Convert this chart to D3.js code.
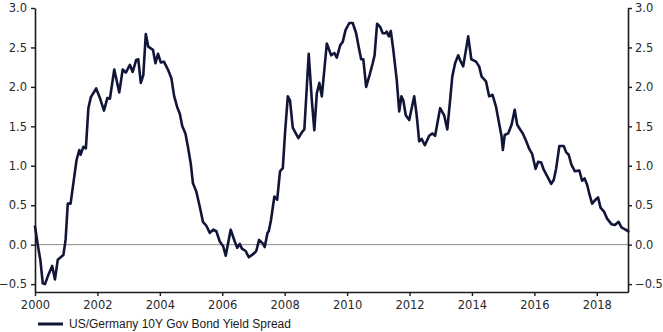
<!DOCTYPE html>
<html>
<head>
<meta charset="utf-8">
<script src="https://cdn.jsdelivr.net/npm/d3@7"></script>
<style>
  html, body { margin: 0; padding: 0; background: #fff; }
  svg { display: block; }
</style>
</head>
<body>
<svg id="chart" width="663" height="332"></svg>
<script>
// Observation times, in fractional years
const time = [
  2000.00, 2000.10, 2000.17, 2000.25, 2000.32, 2000.43, 2000.55, 2000.64, 2000.73, 2000.85,
  2000.91, 2000.98, 2001.05, 2001.14, 2001.23, 2001.33, 2001.42, 2001.46, 2001.55, 2001.63,
  2001.71, 2001.79, 2001.96, 2002.08, 2002.21, 2002.32, 2002.40, 2002.54, 2002.70, 2002.81,
  2002.91, 2003.04, 2003.13, 2003.24, 2003.31, 2003.39, 2003.47, 2003.55, 2003.63, 2003.78,
  2003.86, 2003.94, 2004.03, 2004.13, 2004.26, 2004.37, 2004.46, 2004.56, 2004.64, 2004.72,
  2004.82, 2004.90, 2004.99, 2005.06, 2005.17, 2005.28, 2005.38, 2005.49, 2005.60, 2005.71,
  2005.81, 2005.92, 2006.03, 2006.11, 2006.27, 2006.40, 2006.48, 2006.56, 2006.63, 2006.75,
  2006.85, 2007.02, 2007.09, 2007.18, 2007.31, 2007.36, 2007.45, 2007.49, 2007.56, 2007.67,
  2007.76, 2007.85, 2007.94, 2008.01, 2008.10, 2008.17, 2008.26, 2008.44, 2008.56, 2008.63,
  2008.77, 2008.87, 2008.95, 2009.03, 2009.11, 2009.19, 2009.35, 2009.49, 2009.59, 2009.67,
  2009.78, 2009.86, 2009.95, 2010.07, 2010.18, 2010.29, 2010.37, 2010.45, 2010.52, 2010.61,
  2010.72, 2010.82, 2010.88, 2010.96, 2011.06, 2011.14, 2011.23, 2011.27, 2011.34, 2011.40,
  2011.48, 2011.59, 2011.67, 2011.74, 2011.80, 2011.88, 2011.99, 2012.15, 2012.23, 2012.31,
  2012.39, 2012.49, 2012.63, 2012.73, 2012.82, 2012.98, 2013.11, 2013.21, 2013.30, 2013.37,
  2013.46, 2013.56, 2013.62, 2013.72, 2013.80, 2013.88, 2013.98, 2014.13, 2014.23, 2014.31,
  2014.45, 2014.55, 2014.66, 2014.77, 2014.87, 2014.95, 2014.99, 2015.05, 2015.16, 2015.27,
  2015.37, 2015.45, 2015.56, 2015.63, 2015.74, 2015.84, 2015.93, 2016.04, 2016.12, 2016.22,
  2016.30, 2016.41, 2016.54, 2016.62, 2016.70, 2016.80, 2016.94, 2017.02, 2017.10, 2017.19,
  2017.30, 2017.44, 2017.53, 2017.61, 2017.69, 2017.77, 2017.85, 2017.96, 2018.04, 2018.12,
  2018.23, 2018.33, 2018.47, 2018.58, 2018.70, 2018.79, 2018.92, 2019.01
];

// US 10Y minus German 10Y government bond yield, percentage points
const spread = [
   0.23, -0.03, -0.19, -0.49, -0.50, -0.38, -0.27, -0.44, -0.19, -0.15,
  -0.13,  0.06,  0.52,  0.52,  0.78,  1.07,  1.20,  1.14,  1.24,  1.22,
   1.73,  1.87,  1.98,  1.86,  1.70,  1.86,  1.85,  2.22,  1.93,  2.22,
   2.18,  2.28,  2.19,  2.34,  2.35,  2.05,  2.15,  2.67,  2.51,  2.47,
   2.30,  2.42,  2.31,  2.32,  2.22,  2.11,  1.88,  1.74,  1.66,  1.50,
   1.41,  1.24,  1.03,  0.78,  0.67,  0.48,  0.29,  0.24,  0.15,  0.19,
   0.17,  0.04, -0.02, -0.14,  0.19,  0.04, -0.04,  0.01, -0.05, -0.08,
  -0.16, -0.11, -0.08,  0.06,  0.01, -0.03,  0.15,  0.17,  0.31,  0.61,
   0.57,  0.93,  0.97,  1.41,  1.88,  1.83,  1.48,  1.35,  1.43,  1.46,
   2.42,  1.83,  1.45,  1.92,  2.05,  1.88,  2.55,  2.40,  2.43,  2.37,
   2.53,  2.57,  2.72,  2.81,  2.81,  2.68,  2.51,  2.35,  2.35,  2.00,
   2.15,  2.30,  2.40,  2.80,  2.76,  2.68,  2.68,  2.70,  2.64,  2.71,
   2.47,  2.09,  1.69,  1.88,  1.83,  1.64,  1.58,  1.88,  1.64,  1.31,
   1.34,  1.26,  1.38,  1.41,  1.38,  1.73,  1.64,  1.46,  1.83,  2.13,
   2.30,  2.40,  2.34,  2.26,  2.45,  2.64,  2.35,  2.32,  2.26,  2.13,
   2.07,  1.88,  1.90,  1.75,  1.54,  1.37,  1.20,  1.39,  1.41,  1.52,
   1.71,  1.52,  1.45,  1.41,  1.31,  1.21,  1.15,  0.96,  1.05,  1.04,
   0.95,  0.87,  0.77,  0.82,  0.97,  1.25,  1.25,  1.17,  1.14,  1.01,
   0.93,  0.94,  0.81,  0.84,  0.76,  0.63,  0.52,  0.57,  0.60,  0.47,
   0.42,  0.33,  0.26,  0.25,  0.29,  0.22,  0.19,  0.17
];

const xTicks = [2000, 2002, 2004, 2006, 2008, 2010, 2012, 2014, 2016, 2018];
const yTicks = [-0.5, 0.0, 0.5, 1.0, 1.5, 2.0, 2.5, 3.0];
const seriesName = "US/Germany 10Y Gov Bond Yield Spread";

const svg = d3.select("#chart");
const margin = { left: 35, right: 35, top: 8, bottom: 40 };
const W = 663, H = 332;

const x = d3.scaleLinear().domain([2000, 2019]).range([margin.left, W - margin.right]);
const y = d3.scaleLinear().domain([-0.6, 3.0]).range([H - margin.bottom, margin.top]);

const tickFont = "'DejaVu Sans', Verdana, sans-serif";
const axisColor = "#1a1a1a";

// zero reference line
svg.append("line")
  .attr("x1", x.range()[0]).attr("x2", x.range()[1])
  .attr("y1", y(0)).attr("y2", y(0))
  .attr("stroke", "#8a8a8a").attr("stroke-width", 1);

// series line
const pts = time.map((t, i) => [t, spread[i]]);
svg.append("path")
  .datum(pts)
  .attr("fill", "none")
  .attr("stroke", "#111638")
  .attr("stroke-width", 2.6)
  .attr("stroke-linejoin", "round")
  .attr("stroke-linecap", "round")
  .attr("d", d3.line().x(d => x(d[0])).y(d => y(d[1])));

function styleAxis(g) {
  g.select(".domain").attr("stroke", axisColor).attr("stroke-width", 1.6);
  g.selectAll(".tick line").attr("stroke", axisColor).attr("stroke-width", 1.4);
  g.selectAll(".tick text")
    .attr("fill", "#2a2a2a")
    .style("font-family", tickFont)
    .style("font-size", "11.5px");
}

// bottom axis
svg.append("g")
  .attr("transform", `translate(0,${y.range()[0]})`)
  .call(d3.axisBottom(x).tickValues(xTicks).tickFormat(d3.format("d"))
        .tickSizeInner(4).tickSizeOuter(0).tickPadding(5))
  .call(styleAxis);

// left axis
svg.append("g")
  .attr("transform", `translate(${x.range()[0]},0)`)
  .call(d3.axisLeft(y).tickValues(yTicks).tickFormat(d3.format(".1f"))
        .tickSizeInner(4).tickSizeOuter(0).tickPadding(4))
  .call(styleAxis);

// right axis
svg.append("g")
  .attr("transform", `translate(${x.range()[1]},0)`)
  .call(d3.axisRight(y).tickValues(yTicks).tickFormat(d3.format(".1f"))
        .tickSizeInner(4).tickSizeOuter(0).tickPadding(3))
  .call(styleAxis);

// legend
const legend = svg.append("g").attr("transform", "translate(38,324)");
legend.append("line")
  .attr("x1", 0).attr("x2", 25).attr("y1", 0).attr("y2", 0)
  .attr("stroke", "#111638").attr("stroke-width", 3);
legend.append("text")
  .attr("x", 31).attr("y", 0).attr("dy", "0.35em")
  .attr("fill", "#1a1a1a")
  .style("font-family", "'Liberation Sans', Arial, sans-serif")
  .style("font-size", "12px")
  .text(seriesName);
</script>
</body>
</html>
